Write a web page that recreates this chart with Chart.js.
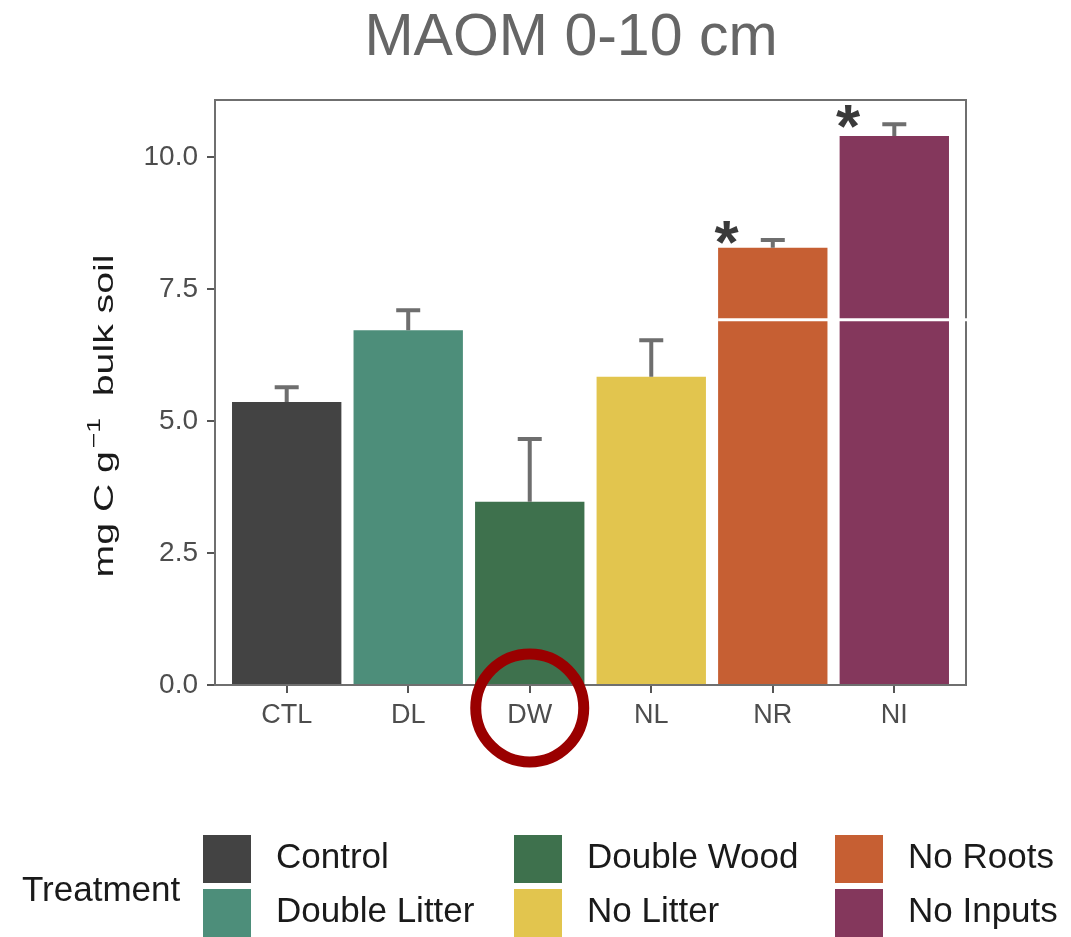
<!DOCTYPE html>
<html>
<head>
<meta charset="utf-8">
<script src="https://cdn.jsdelivr.net/npm/chart.js@4.4.1/dist/chart.umd.min.js"></script>
<style>
  html, body { margin: 0; padding: 0; background: #ffffff; }
  #wrap { width: 1071px; height: 937px; position: relative; }
</style>
</head>
<body>
<div id="wrap"><canvas id="c" width="1071" height="937"></canvas></div>
<script>
// Mineral-associated organic matter, 0-10 cm, by treatment
const treatments = ['CTL', 'DL', 'DW', 'NL', 'NR', 'NI'];
const treatmentNames = ['Control', 'Double Litter', 'Double Wood', 'No Litter', 'No Roots', 'No Inputs'];
const maomMean = [5.36, 6.72, 3.47, 5.84, 8.28, 10.40];
const maomUpper = [5.64, 7.10, 4.66, 6.53, 8.43, 10.62];
const significant = [false, false, false, false, true, true];
const yTicks = [0, 2.5, 5.0, 7.5, 10.0];
const highlighted = 'DW';

const palette = ['#434343', '#4d8e7a', '#3e714d', '#e2c54e', '#c65f33', '#84375c'];
const FONT = '"Liberation Sans", Arial, Helvetica, sans-serif';
Chart.defaults.font.family = FONT;

const barPoints = maomMean.map((v, i) => ({ x: i, y: v }));

// panel border, error bars, significance stars, titles, legend and the ring
const decorations = {
  id: 'decorations',
  afterDatasetsDraw(chart) {
    const { ctx, chartArea: a, scales: { x, y } } = chart;
    ctx.save();

    // error bars (mean to mean + SE)
    ctx.strokeStyle = '#6e6e6e';
    ctx.lineWidth = 4;
    ctx.lineCap = 'butt';
    maomMean.forEach((m, i) => {
      const px = x.getPixelForValue(i);
      const y0 = y.getPixelForValue(m);
      const y1 = y.getPixelForValue(maomUpper[i]);
      ctx.beginPath();
      ctx.moveTo(px, y0);
      ctx.lineTo(px, y1);
      ctx.moveTo(px - 12, y1);
      ctx.lineTo(px + 12, y1);
      ctx.stroke();
    });

    // significance stars
    ctx.fillStyle = '#3a3a3a';
    ctx.font = 'bold 62px ' + FONT;
    ctx.textAlign = 'center';
    ctx.textBaseline = 'alphabetic';
    significant.forEach((s, i) => {
      if (!s) return;
      const px = x.getPixelForValue(i - 0.38);
      const py = y.getPixelForValue(maomUpper[i]);
      ctx.fillText('*', px, py + 23);
    });

    // panel border
    ctx.strokeStyle = '#6f6f6f';
    ctx.lineWidth = 2;
    ctx.strokeRect(a.left, a.top, a.right - a.left, a.bottom - a.top);

    // thin white seam across the two right-hand bars
    ctx.strokeStyle = '#ffffff';
    ctx.lineWidth = 3;
    const seamY = y.getPixelForValue(6.92);
    ctx.beginPath();
    ctx.moveTo(x.getPixelForValue(3.55), seamY);
    ctx.lineTo(a.right + 4, seamY);
    ctx.stroke();

    // title
    ctx.fillStyle = '#666666';
    ctx.font = '59px ' + FONT;
    ctx.textAlign = 'center';
    ctx.textBaseline = 'alphabetic';
    ctx.fillText('MAOM 0-10 cm', 571, 55);

    // y axis title with superscript
    ctx.save();
    ctx.translate(113, 416);
    ctx.rotate(-Math.PI / 2);
    ctx.scale(1.4, 1);
    ctx.fillStyle = '#1a1a1a';
    const main = '28px ' + FONT, sup = '19px ' + FONT;
    ctx.font = main;
    const p1 = 'mg C g', p3 = '  bulk soil';
    const w1 = ctx.measureText(p1).width;
    const w3 = ctx.measureText(p3).width;
    ctx.font = sup;
    const p2 = '\u22121';
    const w2 = ctx.measureText(p2).width;
    const total = w1 + 2 + w2 + w3;
    let cx = -total / 2;
    ctx.textAlign = 'left';
    ctx.font = main;
    ctx.fillText(p1, cx, 0);
    cx += w1 + 2;
    ctx.font = sup;
    ctx.fillText(p2, cx, -13);
    cx += w2;
    ctx.font = main;
    ctx.fillText(p3, cx, 0);
    ctx.restore();

    // legend
    ctx.fillStyle = '#1a1a1a';
    ctx.font = '35px ' + FONT;
    ctx.textAlign = 'left';
    ctx.fillText('Treatment', 22, 901);
    const colX = [203, 514, 835];
    const rowY = [835, 889];
    treatmentNames.forEach((name, i) => {
      const c = Math.floor(i / 2), r = i % 2;
      ctx.fillStyle = palette[i];
      ctx.fillRect(colX[c], rowY[r], 48, 48);
      ctx.fillStyle = '#1a1a1a';
      ctx.font = '35px ' + FONT;
      ctx.fillText(name, colX[c] + 73, rowY[r] + 33);
    });

    // ring around the highlighted treatment
    const hi = treatments.indexOf(highlighted);
    ctx.strokeStyle = '#9a0000';
    ctx.lineWidth = 11;
    ctx.beginPath();
    ctx.arc(x.getPixelForValue(hi), 708, 54, 0, Math.PI * 2);
    ctx.stroke();

    ctx.restore();
  }
};

new Chart(document.getElementById('c'), {
  type: 'bar',
  data: {
    datasets: [{
      data: barPoints,
      backgroundColor: palette,
      borderWidth: 0,
      barPercentage: 0.9,
      categoryPercentage: 1
    }]
  },
  options: {
    responsive: false,
    animation: false,
    events: [],
    layout: { padding: { top: 100, right: 105, left: 0, bottom: 0 } },
    plugins: { legend: { display: false }, tooltip: { enabled: false } },
    scales: {
      x: {
        type: 'linear',
        min: -0.59,
        max: 5.59,
        offset: false,
        afterBuildTicks: s => { s.ticks = treatments.map((t, i) => ({ value: i })); },
        afterFit: s => { s.height = 252; },
        ticks: {
          callback: v => treatments[v],
          font: { size: 27 },
          color: '#4d4d4d',
          padding: 6,
          autoSkip: false,
          maxRotation: 0
        },
        grid: { offset: false, drawOnChartArea: false, tickLength: 8, color: '#555555', lineWidth: 2 },
        border: { display: false }
      },
      y: {
        min: 0,
        max: 11.08,
        afterBuildTicks: s => { s.ticks = yTicks.map(v => ({ value: v })); },
        afterFit: s => { s.width = 215; },
        ticks: {
          callback: v => v.toFixed(1),
          font: { size: 28 },
          color: '#4d4d4d',
          padding: 9
        },
        grid: { drawOnChartArea: false, tickLength: 8, color: '#555555', lineWidth: 2 },
        border: { display: false }
      }
    }
  },
  plugins: [decorations]
});
</script>
</body>
</html>
